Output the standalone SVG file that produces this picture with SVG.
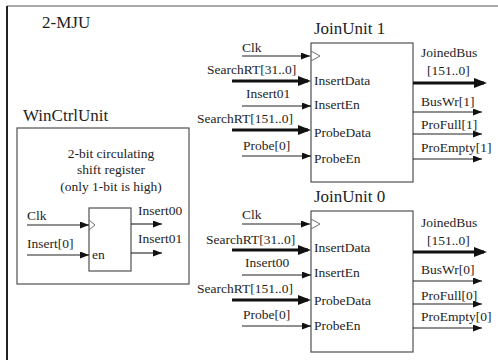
<svg xmlns="http://www.w3.org/2000/svg" width="498" height="360" viewBox="0 0 498 360">
<defs>
<style>
text{font-family:"Liberation Serif","Times New Roman",serif;fill:#1e1e1e;}
.t{font-size:17px;}
.p{font-size:13.5px;}
.box{fill:#fff;stroke:#505050;stroke-width:1.2;}
.clk{fill:none;stroke:#707070;stroke-width:1;}
.w{stroke:#222;stroke-width:1.1;fill:none;}
.b{stroke:#111;stroke-width:3;fill:none;}
</style>
<marker id="a" markerUnits="userSpaceOnUse" markerWidth="9" markerHeight="7" refX="9" refY="3.5" orient="auto"><path d="M0,0 L9,3.5 L0,7 z" fill="#111"/></marker>
<marker id="ab" markerUnits="userSpaceOnUse" markerWidth="13" markerHeight="10" refX="10" refY="5" orient="auto"><path d="M0,0 L13,5 L0,10 z" fill="#111"/></marker>
</defs>
<rect width="498" height="360" fill="#fff"/>
<g id="frame">
<line x1="7" y1="6" x2="498" y2="6" stroke="#555" stroke-width="1"/>
<line x1="7" y1="6" x2="7" y2="360" stroke="#222" stroke-width="2"/>
<text class="t" x="42" y="28">2-MJU</text>
</g>
<g id="winctrl">
<text class="t" x="23" y="121">WinCtrlUnit</text>
<rect class="box" x="17" y="128" width="172" height="156"/>
<text class="p" x="111" y="158" text-anchor="middle">2-bit circulating</text>
<text class="p" x="111" y="174" text-anchor="middle">shift register</text>
<text class="p" x="111" y="191" text-anchor="middle">(only 1-bit is high)</text>
<rect class="box" x="89" y="208" width="42" height="63"/>
<path class="clk" d="M89,220 L95,225 L89,230"/>
<text class="p" x="92" y="259">en</text>
<text class="p" x="27" y="220">Clk</text>
<text class="p" x="27" y="248">Insert[0]</text>
<text class="p" x="138" y="215">Insert00</text>
<text class="p" x="138" y="243">Insert01</text>
</g>
<g id="ju1">
<text class="t" x="314" y="34">JoinUnit 1</text>
<rect class="box" x="311" y="43" width="102" height="139"/>
<path class="clk" d="M311,51 L320,56 L311,61"/>
<text class="p" x="314" y="85">InsertData</text>
<text class="p" x="314" y="109">InsertEn</text>
<text class="p" x="314" y="137">ProbeData</text>
<text class="p" x="314" y="163">ProbeEn</text>
</g>
<g id="ju0">
<text class="t" x="314" y="202">JoinUnit 0</text>
<rect class="box" x="311" y="211" width="102" height="141"/>
<path class="clk" d="M311,219 L320,224 L311,229"/>
<text class="p" x="314" y="252">InsertData</text>
<text class="p" x="314" y="277">InsertEn</text>
<text class="p" x="314" y="305">ProbeData</text>
<text class="p" x="314" y="330">ProbeEn</text>
</g>
<g id="labels">
<text class="p" x="242" y="52">Clk</text>
<text class="p" x="207" y="74">SearchRT[31..0]</text>
<text class="p" x="246" y="98">Insert01</text>
<text class="p" x="197" y="123">SearchRT[151..0]</text>
<text class="p" x="243" y="150">Probe[0]</text>
<text class="p" x="421" y="57">JoinedBus</text>
<text class="p" x="427" y="75">[151..0]</text>
<text class="p" x="421" y="106">BusWr[1]</text>
<text class="p" x="421" y="129">ProFull[1]</text>
<text class="p" x="421" y="152">ProEmpty[1]</text>
<text class="p" x="242" y="219">Clk</text>
<text class="p" x="206" y="244">SearchRT[31..0]</text>
<text class="p" x="245" y="267">Insert00</text>
<text class="p" x="197" y="293">SearchRT[151..0]</text>
<text class="p" x="243" y="319">Probe[0]</text>
<text class="p" x="421" y="227">JoinedBus</text>
<text class="p" x="427" y="245">[151..0]</text>
<text class="p" x="421" y="274">BusWr[0]</text>
<text class="p" x="421" y="300">ProFull[0]</text>
<text class="p" x="421" y="321">ProEmpty[0]</text>
</g>
<g id="connectors">
<line class="w" x1="27" y1="225" x2="89" y2="225" marker-end="url(#a)"/>
<line class="w" x1="27" y1="255" x2="89" y2="255" marker-end="url(#a)"/>
<line class="w" x1="131" y1="224" x2="162" y2="224" marker-end="url(#a)"/>
<line class="w" x1="131" y1="253" x2="162" y2="253" marker-end="url(#a)"/>

<line class="w" x1="242" y1="56" x2="310" y2="56" marker-end="url(#a)"/>
<line class="b" x1="232" y1="81" x2="308" y2="81" marker-end="url(#ab)"/>
<line class="w" x1="242" y1="106" x2="311" y2="106" marker-end="url(#a)"/>
<line class="b" x1="232" y1="130" x2="308" y2="130" marker-end="url(#ab)"/>
<line class="w" x1="242" y1="156" x2="311" y2="156" marker-end="url(#a)"/>
<line class="b" x1="413" y1="83" x2="484" y2="83" marker-end="url(#ab)"/>
<line class="w" x1="413" y1="112" x2="482" y2="112" marker-end="url(#a)"/>
<line class="w" x1="413" y1="134" x2="482" y2="134" marker-end="url(#a)"/>
<line class="w" x1="413" y1="159" x2="482" y2="159" marker-end="url(#a)"/>

<line class="w" x1="242" y1="224" x2="310" y2="224" marker-end="url(#a)"/>
<line class="b" x1="232" y1="250" x2="308" y2="250" marker-end="url(#ab)"/>
<line class="w" x1="242" y1="275" x2="311" y2="275" marker-end="url(#a)"/>
<line class="b" x1="232" y1="300" x2="308" y2="300" marker-end="url(#ab)"/>
<line class="w" x1="242" y1="326" x2="311" y2="326" marker-end="url(#a)"/>
<line class="b" x1="413" y1="252" x2="484" y2="252" marker-end="url(#ab)"/>
<line class="w" x1="413" y1="281" x2="482" y2="281" marker-end="url(#a)"/>
<line class="w" x1="413" y1="304" x2="482" y2="304" marker-end="url(#a)"/>
<line class="w" x1="413" y1="328" x2="482" y2="328" marker-end="url(#a)"/>
</g>
</svg>
